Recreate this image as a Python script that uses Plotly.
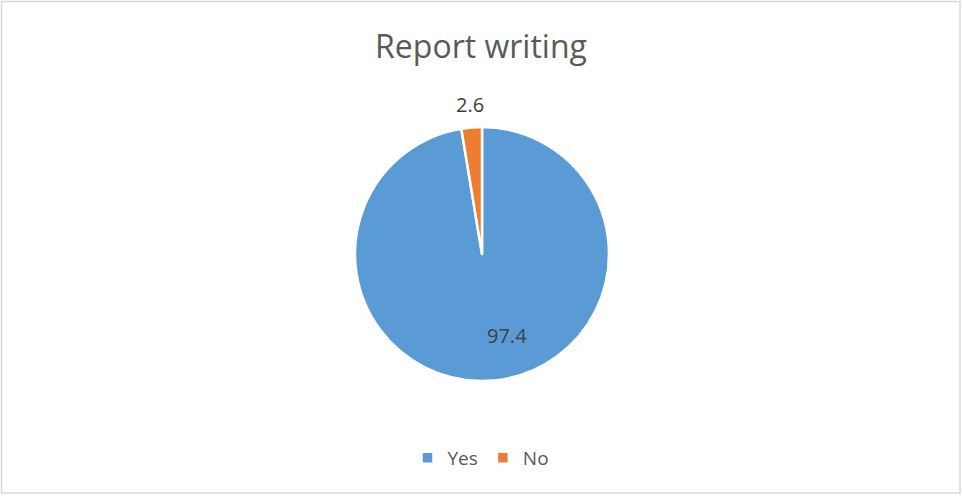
import math
import plotly.graph_objects as go

categories = ["Yes", "No"]
values = [97.4, 2.6]
colors = ["#5B9BD5", "#ED7D31"]
title_text = "Report writing"

W, H = 962, 496
cx, cy, r = 482, 254, 127
FONT = "Open Sans, sans-serif"

fig = go.Figure(go.Pie(
    labels=categories,
    values=values,
    sort=False,
    direction="clockwise",
    rotation=0,
    marker=dict(colors=colors, line=dict(color="white", width=2.5)),
    textinfo="none",
    domain=dict(x=[(cx - r) / W, (cx + r) / W], y=[1 - (cy + r) / H, 1 - (cy - r) / H]),
    hoverinfo="label+value",
))

# data labels placed along each slice's mid-angle (clockwise from 12 o'clock)
total = sum(values)
label_dist = {"Yes": 82, "No": 150}
label_xshift = {"Yes": 18, "No": 0}
annotations = []
cum = 0.0
for cat, v in zip(categories, values):
    mid = (cum + v / 2) / total
    cum += v
    th = 2 * math.pi * mid
    d = label_dist[cat]
    px = cx + d * math.sin(th)
    py = cy - d * math.cos(th)
    annotations.append(dict(
        x=px / W, y=1 - py / H, xref="paper", yref="paper",
        text=f"{v:g}", showarrow=False, xanchor="center", yanchor="middle",
        xshift=label_xshift[cat],
        font=dict(family=FONT, size=20, color="#404040"),
    ))

fig.update_layout(
    width=W, height=H,
    margin=dict(l=0, r=0, t=0, b=0),
    paper_bgcolor="white",
    plot_bgcolor="white",
    title=dict(text=title_text, x=0.5, xanchor="center", y=1 - 47 / H, yanchor="middle",
               font=dict(family=FONT, size=32, color="#595959")),
    showlegend=True,
    legend=dict(orientation="h", x=0.5, xanchor="center", y=1 - 458 / H, yanchor="middle",
                font=dict(family=FONT, size=19, color="#595959"),
                itemwidth=30, traceorder="normal"),
    annotations=annotations,
    shapes=[dict(type="rect", xref="paper", yref="paper", x0=1.5 / W, x1=960 / W,
                 y0=1 - 493 / H, y1=1 - 1.5 / H, line=dict(color="#D9D9D9", width=1.5),
                 fillcolor="rgba(0,0,0,0)")],
)

fig.write_html("out.html", config={"displayModeBar": False},
               post_script="document.body.style.margin='0px';document.body.style.overflow='hidden';")
